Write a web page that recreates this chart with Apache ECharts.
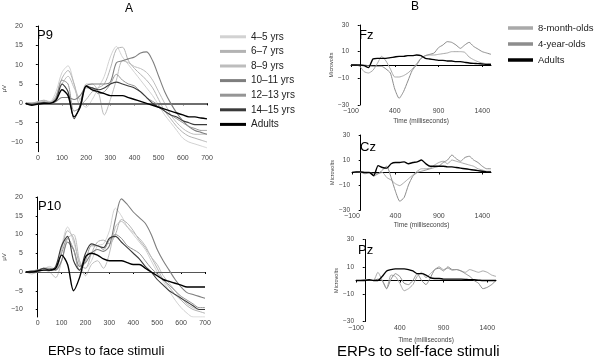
<!DOCTYPE html>
<html><head><meta charset="utf-8">
<script src="https://cdn.jsdelivr.net/npm/echarts@6/dist/echarts.min.js"></script>
<style>html,body{margin:0;padding:0;background:#fff}#c{width:600px;height:359px}</style>
</head><body><div id="c"></div>
<script>
// ---------- DATA ----------
const timesA = [-50,-25,0,25,50,75,100,125,150,175,200,225,250,275,300,325,350,375,400,425,450,475,500,525,550,575,600,625,650,675,700];
const groupsA = ['4–5 yrs','6–7 yrs','8–9 yrs','10–11 yrs','12–13 yrs','14–15 yrs','Adults'];
const ticksAx = [0,100,200,300,400,500,600,700];
const ticksAy = [-10,-5,0,5,10,15,20];

// P9 (µV)
const p9_4_5   = [0,0,0.3,0.8,0.5,3,8,9.7,5,0.5,-1,1,4,7,12,14.7,12,10,8,6,4,2,-0.5,-3,-5,-7,-9,-10,-10.5,-11,-11.5];
const p9_6_7   = [0,0,0.5,0.8,0.3,2,6.5,8.5,5,-0.5,1,3,4,5,9,14,14.5,11,9,7.5,6,4,1,-2,-4,-6,-7.5,-8.5,-9,-9.5,-10];
const p9_8_9   = [0,0,0.2,0.5,0.3,1.5,5,7,4,1,5,5,3,-3,1,6,11,10.5,9.5,9,8,6,3,0,-3,-5,-6.5,-7.5,-8,-8,-8];
const p9_10_11 = [0,0,0,0,0,0.5,1.5,1.5,1,2,4.5,5,5,5,5.5,10.5,11,11.5,12,13,13.3,11,7,3,0,-2.5,-4.5,-6,-7,-7.5,-8];
const p9_12_13 = [0,0,0,0.3,0,1.5,6,5,-2,-1,4,4,2.5,3,5,7.5,6,5,4.5,3,1.5,0.5,-0.5,-2,-3,-4,-5,-6,-6.5,-7,-7];
const p9_14_15 = [0,-0.3,0,0.2,0,1,5,3,-4,-0.5,4.5,4,3.5,4,5,5.5,5,4.5,4,3,1.5,0,-1,-2,-3,-3.5,-4.5,-5,-5.5,-5.5,-5.5];
const p9_adult = [0,-0.5,-0.2,0,0,0.8,3.5,2,-3.5,-1,4.5,3.5,3,2.5,2,2,2,1.5,1,0.5,0,-0.5,-1,-1.5,-2,-2.5,-3,-3.5,-3.5,-3.8,-4];

// P10 (µV)
const p10_4_5   = [0,0.3,0.2,0.8,1.5,0.5,7,12,8,3,1,3,7,7.5,11,17,15,12,10,8,6,3,0,-2.5,-5,-7.5,-9.5,-11,-12,-12,-12];
const p10_6_7   = [0,0.3,0.5,1,0.5,0.5,6,11,9,2,1,5,8,8.5,7.5,10,14,13,11,8.5,6.5,4,1,-2,-4,-6,-7.5,-9,-10,-10.5,-11];
const p10_8_9   = [0,-0.5,0,0.5,0,-1.5,3,9,10,3,-1,2,3,1,5,12,13.5,12,10.5,9,7,4,2,-1,-3,-5,-7,-8.5,-9.5,-10,-10];
const p10_10_11 = [0,0.3,0.5,1,1,0.5,3,8,6,1.5,2.5,5,6,5.5,7,14,19.5,18,16,14.5,13,10,6,3,0.5,-2,-4,-5.5,-6,-6.5,-7];
const p10_12_13 = [0,0,0.3,0.5,0.5,1,5,9,6,0.5,3,7,7,6,8.5,10,9,7,6,5,3,1,-0.5,-2,-3.5,-5,-6.5,-7.5,-8.5,-9.5,-9.5];
const p10_14_15 = [0,0,0.3,1,0.5,1.5,7,9.5,3,0.5,5,7.5,7,6.5,9,9.5,8,6.5,5,3.5,1.5,0,-2,-3.5,-5,-6,-7,-8,-9,-10,-10];
const p10_adult = [0,0,0.3,0.5,0.5,1,4.5,2,-5,-1.5,4,5,4.5,3.5,3,3,3,2.5,2,2,1,0,-1,-2,-2.5,-3,-3.5,-4,-4,-4,-4];

const timesB = [-100,-50,0,50,100,150,200,250,300,350,400,450,500,550,600,650,700,750,800,850,900,950,1000,1050,1100,1150,1200,1250,1300,1350,1400,1450,1500];
const groupsB = ['8-month-olds','4-year-olds','Adults'];
const ticksBx = [-100,400,900,1400];
const ticksBy = [-30,-10,10,30];

// Fz (microvolts)
const fz_8m    = [0,0,-1,-5,-6,-4,1,6.5,3,-3,-9,-9,-8,-6,-3,1,5,7,7.5,7.5,8,8.5,9,10,10,10,9.5,6,4,2.5,1.5,1,1];
const fz_4y    = [0,0,-0.5,0,-0.5,-1,-1,-1,-3,-6,-18,-25,-20,-12,-4,0,5,7,8,9,13,15,17.5,17,15,12.5,15,17,14,12,10,9,8];
const fz_adult = [0,0,0,-0.5,-2,4.5,5,5,5,5.5,6,6.5,6.5,7,7,7.5,7,5,4.5,4,3.5,3.5,3,3,2.5,2.5,2,1.5,1.2,1,0.8,0.5,0.5];
// Cz
const cz_8m    = [0,0.5,0,-1,0,-3,-1,0,-4,-6,-9,-10.5,-8,-5,-2,1,3,3,3.5,6,8,9,7,10,9,8,7,6,5,3,2,1,1];
const cz_4y    = [0,0.5,0.5,0,0,-1,-1,2,5,-4,-15,-23,-20,-10,-3,0,1,2,3,4,5,8,10,14,11,9,12,13,10,8,5,3,3];
const cz_adult = [0,0.5,0.5,0,0,-2.5,5.5,4,3.5,7,8,8,8.5,7,8,8.5,10,7,5,5,5,5,4.5,4.5,4,3.5,3,2.5,2,1.5,1,0.5,0.5];
// Pz
const pz_8m    = [0,0,0.5,0.5,0,6,0,-6,4,3,-2,-7.5,-6,-3,3,6,2,5,8,10,8,9,7.5,8,7,6,8,7,6,7,6,4,3];
const pz_4y    = [0,0,0.5,0.5,0,1,0,-6,1,5,3,-2,-3,0,5,0,-3,2,8,9,7,10,8,8,7,5,3,0,-2,-6,-5,-3,0];
const pz_adult = [0,0,0,0.5,0,0,3,7,8,8.5,8.5,8.5,8,7,5,5,4,2,1.5,1.5,1,1,1,1,1,0.8,0.5,0.5,0.3,0,0,0,0];

// ---------- STYLE ----------
const FONT = 'Liberation Sans, Arial, sans-serif';
const colorsA = ['#d2d2d2','#b3b3b3','#bdbdbd','#7e7e7e','#959595','#3a3a3a','#000000'];
const widthsA = [1,1,1,1.1,1,1.1,1.4];
const colorsB = ['#a9a9a9','#8d8d8d','#000000'];
const minus = v => String(v).replace('-', '−');

const chart = echarts.init(document.getElementById('c'), null, {renderer:'canvas'});

function xA(idx){ return {gridIndex:idx,type:'value',min:-50,max:700,
  axisLine:{lineStyle:{color:'#000',width:1}},
  axisTick:{customValues:ticksAx,length:2,lineStyle:{color:'#000'}},
  axisLabel:{customValues:ticksAx,fontSize:7,color:'#444',margin:3,fontFamily:FONT},
  splitLine:{show:false}}; }
function yA(idx,min){ return {gridIndex:idx,type:'value',min:min,max:20,
  name:'µV',nameLocation:'middle',nameGap:13,nameRotate:90,nameTextStyle:{fontSize:6,color:'#333',fontFamily:FONT},
  axisLine:{show:true,lineStyle:{color:'#000',width:1}},
  axisTick:{show:true,customValues:ticksAy,length:2,lineStyle:{color:'#000'}},
  axisLabel:{customValues:ticksAy,fontSize:7,color:'#444',margin:3,fontFamily:FONT,formatter:minus},
  splitLine:{show:false}}; }
function xB(idx,gap){ return {gridIndex:idx,type:'value',min:-100,max:1500,
  name:'Time (milliseconds)',nameLocation:'middle',nameGap:gap,nameTextStyle:{fontSize:6.5,color:'#444',fontFamily:FONT},
  axisLine:{lineStyle:{color:'#000',width:1}},
  axisTick:{customValues:ticksBx,length:2,lineStyle:{color:'#000'}},
  axisLabel:{customValues:ticksBx,fontSize:7,color:'#444',margin:3,fontFamily:FONT,formatter:minus},
  splitLine:{show:false}}; }
function yB(idx){ return {gridIndex:idx,type:'value',min:-30,max:30,
  name:'Microvolts',nameLocation:'middle',nameGap:11,nameRotate:90,nameTextStyle:{fontSize:5.5,color:'#444',fontFamily:FONT},
  axisLine:{show:true,lineStyle:{color:'#000',width:1}},
  axisTick:{show:true,customValues:ticksBy,length:2,lineStyle:{color:'#000'}},
  axisLabel:{customValues:ticksBy,fontSize:6.5,color:'#444',margin:2,fontFamily:FONT,formatter:minus},
  splitLine:{show:false}}; }

const series = [];
function addA(arrs, gi, zeroW, zeroC){
  arrs.forEach((vals,i)=>{
    const s = {name:groupsA[i],type:'line',xAxisIndex:gi,yAxisIndex:gi,showSymbol:false,smooth:0.3,
      data:timesA.map((t,k)=>[t,vals[k]]),
      lineStyle:{color:colorsA[i],width:widthsA[i]},itemStyle:{color:colorsA[i]},z:2+i};
    if(i===0){ s.markLine={silent:true,symbol:'none',label:{show:false},
      lineStyle:{color:zeroC,width:zeroW,type:'solid'},data:[{yAxis:0}]}; }
    series.push(s);
  });
}
addA([p9_4_5,p9_6_7,p9_8_9,p9_10_11,p9_12_13,p9_14_15,p9_adult],0,2,'#6e6e6e');
addA([p10_4_5,p10_6_7,p10_8_9,p10_10_11,p10_12_13,p10_14_15,p10_adult],1,1,'#555');
function addB(arrs, gi){
  arrs.forEach((vals,i)=>{
    series.push({name:groupsB[i],type:'line',xAxisIndex:gi,yAxisIndex:gi,showSymbol:false,smooth:0.2,
      data:timesB.map((t,k)=>[t,vals[k]]),
      lineStyle:{color:colorsB[i],width:i===2?1.4:1},itemStyle:{color:colorsB[i]},z:2+i});
  });
}
addB([fz_8m,fz_4y,fz_adult],2);
addB([cz_8m,cz_4y,cz_adult],3);
addB([pz_8m,pz_4y,pz_adult],4);

function t(text,left,top,size){ return {text:text,left:left,top:top,padding:0,textStyle:{fontSize:size,fontWeight:'normal',color:'#000',fontFamily:FONT}}; }

chart.setOption({
  animation:false,
  backgroundColor:'#fff',
  title:[
    t('A',125,3,12), t('B',411,1,12),
    t('P9',37,29,13), t('P10',38,200,13),
    t('Fz',359,29,13), t('Cz',360,141,13), t('Pz',358,244,13),
    t('ERPs to face stimuli',48,345,13),
    t('ERPs to self-face stimuli',337,344,15)
  ],
  grid:[
    {left:22,top:26,width:185,height:125.7},
    {left:25,top:197,width:180,height:120},
    {left:351,top:25,width:140,height:80},
    {left:352,top:135,width:139,height:75},
    {left:356,top:239.5,width:140,height:82}
  ],
  xAxis:[xA(0),xA(1),xB(2,13),xB(3,12),xB(4,15)],
  yAxis:[yA(0,-12.5),yA(1,-12),yB(2),yB(3),yB(4)],
  legend:[
    {data:groupsA,orient:'vertical',left:220,top:31,padding:0,itemWidth:26,itemHeight:3,itemGap:3,icon:'rect',
      textStyle:{fontSize:10,color:'#222',fontFamily:FONT,lineHeight:11.6},selectedMode:false},
    {data:groupsB,orient:'vertical',left:508,top:22,padding:0,itemWidth:25,itemHeight:3.5,itemGap:4,icon:'rect',
      textStyle:{fontSize:9.5,color:'#222',fontFamily:FONT,lineHeight:12},selectedMode:false}
  ],
  series:series
});
</script></body></html>
